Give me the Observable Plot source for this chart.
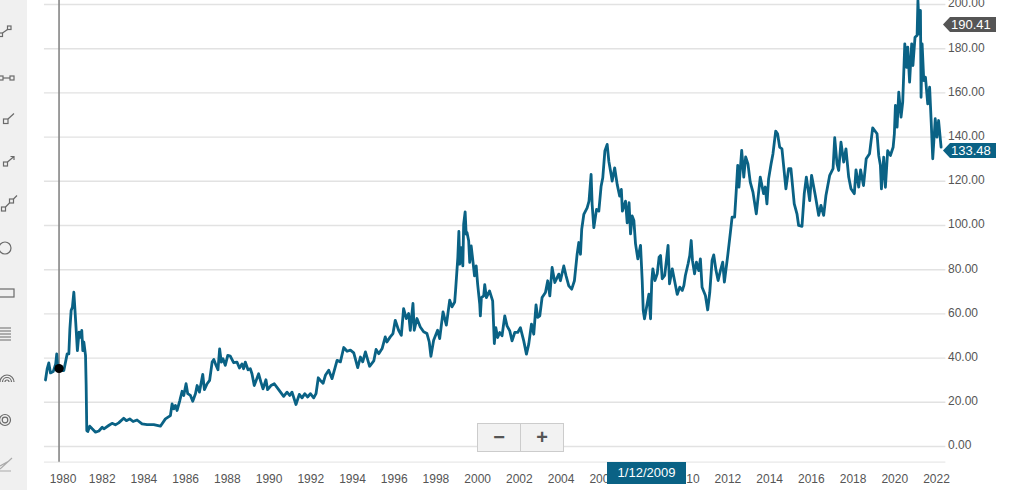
<!DOCTYPE html>
<html>
<head>
<meta charset="utf-8">
<script src="https://cdn.jsdelivr.net/npm/d3@7"></script>
<script src="https://cdn.jsdelivr.net/npm/@observablehq/plot@0.6"></script>
<style>
html,body{margin:0;padding:0;background:#fff;overflow:hidden}
#wrap{position:relative;width:1024px;height:490px;overflow:hidden;font-family:"Liberation Sans",Arial,sans-serif}
#wrap svg.plot{position:absolute;left:0;top:0}
#rail{position:absolute;left:0;top:0;width:27px;height:490px;background:#f0f0f0}
#icons{position:absolute;left:0;top:0}
.tag{position:absolute;left:943px;width:53px;height:15px;line-height:15px;color:#fff;font-size:13px;text-indent:8px;clip-path:polygon(0 50%,7px 0,100% 0,100% 100%,7px 100%)}
#zoom{position:absolute;left:477px;top:423px;width:85px;height:27px;background:#f2f2f2;border:1px solid #ccc;display:flex;color:#555;font-weight:bold;font-size:20px;line-height:26px;text-align:center}
#zoom span{flex:1}
#zoom span:first-child{border-right:1px solid #ccc}
#date{position:absolute;left:607px;top:462px;width:79px;height:22px;line-height:21px;background:#0a6285;color:#fff;font-size:13px;text-align:center}
</style>
</head>
<body>
<div id="wrap"></div>
<script>
const years = [
1979.28,1979.36,1979.44,1979.52,1979.65,1979.77,1979.82,1979.87,1980.00,1980.16,1980.32,1980.40,1980.45,1980.51,1980.57,1980.64,1980.69,1980.73,1980.81,1980.89,1980.96,1981.02,1981.07,1981.12,1981.20,1981.23,1981.26,1981.31,1981.40,1981.52,1981.68,1981.84,1982.00,1982.08,1982.31,1982.47,1982.63,1982.79,1983.03,1983.16,1983.32,1983.48,1983.67,1983.91,1984.15,1984.47,1984.79,
1985.03,1985.27,1985.35,1985.43,1985.51,1985.59,1985.72,1985.83,1985.91,1986.02,1986.10,1986.23,1986.34,1986.47,1986.55,1986.66,1986.82,1986.90,1987.03,1987.15,1987.27,1987.35,1987.46,1987.55,1987.63,1987.71,1987.79,1987.90,1988.02,1988.14,1988.30,1988.46,1988.58,1988.70,1988.78,1988.86,1988.99,1989.10,1989.18,1989.29,1989.50,1989.61,1989.71,1989.85,1989.93,1990.09,1990.25,1990.46,1990.70,1990.86,1990.99,1991.10,1991.29,1991.45,1991.58,1991.71,1991.85,1991.98,1992.14,1992.25,1992.36,1992.46,1992.59,1992.70,
1992.86,1993.02,1993.26,1993.42,1993.58,1993.74,1993.90,1994.06,1994.25,1994.38,1994.49,1994.62,1994.82,1995.02,1995.13,1995.26,1995.42,1995.57,1995.65,1995.81,1995.94,1996.05,1996.21,1996.34,1996.45,1996.58,1996.69,1996.77,1996.90,1996.96,1997.09,1997.25,1997.41,1997.57,1997.68,1997.76,1997.89,1998.08,1998.18,1998.34,1998.50,1998.66,1998.77,1998.90,1998.94,
1999.05,1999.10,1999.14,1999.21,1999.29,1999.33,1999.40,1999.45,1999.49,1999.57,1999.62,1999.69,1999.78,1999.85,1999.93,2000.00,2000.10,2000.13,2000.18,2000.29,2000.34,2000.42,2000.57,2000.72,2000.80,2000.87,2000.96,2001.06,2001.17,2001.30,2001.41,2001.54,2001.65,2001.78,2001.92,2002.05,2002.21,2002.34,2002.45,2002.58,2002.69,2002.80,2002.88,2002.98,2003.09,2003.25,2003.36,2003.46,2003.57,2003.70,2003.89,2003.97,2004.13,2004.24,2004.37,2004.51,2004.64,2004.77,2004.85,2004.93,2004.99,
2005.09,2005.25,2005.34,2005.44,2005.49,2005.57,2005.70,2005.81,2005.92,2006.00,2006.10,2006.21,2006.29,2006.40,2006.45,2006.57,2006.69,2006.81,2006.89,2006.94,2007.09,2007.17,2007.26,2007.33,2007.41,2007.49,2007.57,2007.68,2007.81,2007.89,2007.94,2008.00,2008.21,2008.29,2008.35,2008.40,2008.50,2008.61,2008.70,2008.77,2008.85,2008.97,2009.05,2009.13,2009.20,2009.33,2009.44,2009.57,2009.69,2009.81,2009.89,2009.96,2010.09,2010.17,2010.24,2010.30,2010.40,2010.49,2010.60,2010.68,2010.76,2010.92,2011.03,2011.13,2011.24,2011.32,2011.43,2011.53,2011.64,2011.75,2011.83,2011.99,2012.12,2012.20,2012.32,2012.40,2012.47,2012.53,2012.66,2012.76,2012.85,2012.96,2013.07,2013.20,2013.36,2013.55,2013.71,2013.79,2013.87,2013.95,2014.07,2014.16,2014.29,2014.38,2014.48,2014.59,2014.78,2014.91,2015.02,2015.18,2015.31,2015.39,2015.55,2015.66,2015.76,2015.92,2016.01,2016.19,2016.35,2016.46,2016.59,2016.70,2016.88,2017.04,2017.12,2017.23,2017.31,2017.42,2017.55,2017.66,2017.79,2017.90,2018.06,2018.14,2018.27,2018.36,2018.50,2018.63,2018.79,2018.94,
2019.15,2019.23,2019.31,2019.36,2019.47,2019.55,2019.66,2019.79,2019.92,2019.98,2020.03,2020.11,2020.19,2020.30,2020.38,2020.48,2020.56,2020.62,2020.71,2020.81,2020.87,2020.97,2021.07,2021.11,2021.18,2021.23,2021.26,2021.31,2021.39,2021.47,2021.58,2021.67,2021.75,2021.82,2021.94,2022.02,2022.10,2022.22
];
const prices = [
30.1,35.1,37.8,33.3,33.9,37.4,41.9,35.1,34.4,34.4,41.9,41.9,53.2,61.5,63,69.8,62.3,56.2,43.4,51.7,49.4,52.5,43.4,47.2,41.1,27.6,7.2,6.8,9.2,8,6.5,7,8.7,8,9.5,10.5,9.8,10.7,12.8,11.7,12.5,11.3,12,10.2,9.9,9.9,9.2,
12.5,14,19.3,17,18.6,16.3,20.8,25,23.1,28.4,23.9,23.1,20.5,23.9,27.6,24.6,32.6,25.7,28.4,29.9,38.2,39.4,36.7,34.7,44.2,38.2,39.7,36.7,41.2,40.9,37.9,38.2,35.5,37.4,35.2,38.2,34.7,35.2,32.9,27.6,32.9,29.1,26.1,30.2,25.7,27.6,28.4,25.7,22.7,24.6,23.1,24.6,19,23.6,22,23.9,22.4,23.9,22,23.9,31.1,29.9,28.6,32.2,
34.5,30.7,39,38.3,44.8,43.1,43.6,42.4,35.7,40.5,38.3,42.8,36.3,38.7,43.9,42,44.3,49.6,47.3,49.6,51.1,57.1,52.6,50.3,62.4,57.9,60.2,52.6,64.7,52.6,57.9,54.1,51.9,51.1,47.3,40.8,48.1,52.6,48.8,60.9,54.9,66.2,63.2,65.4,70.4,
85.5,97.3,82.5,90,81.7,100.6,106.2,96.1,96.8,93.1,83.3,90.8,83.3,77.2,81.7,73.5,64.4,59.1,67.4,68.2,73.2,67.4,70.4,65.9,46.6,53.8,49.3,51.6,50.1,59.1,54.6,52.3,47.8,51.6,51.6,53.8,47.8,41.8,46.3,55.4,50.8,64.1,58.4,59.1,67.4,69.7,75,68.2,81,74.2,78,75,81.7,77.2,72.7,71.2,75,87,92.3,87,98.3,
105,108,111,123.1,109.5,99,107.3,106.5,117.8,121.6,133.7,136.7,129.1,123.1,120.1,126.1,118.6,113.3,116.3,106.5,111,101.2,110.3,96.2,104.3,102.3,91.7,84.9,91,75.1,61.5,57.8,68.9,57.8,75.1,80.4,75.1,78.1,85.7,86.4,75.9,77.4,84.2,91,73.6,80.4,75.1,68.8,72.1,70.6,72.9,77.4,82.7,86.4,93.2,84.2,78.1,83.4,79.6,84.9,72.1,68.3,61.8,69.8,84.2,86.7,79.6,75.1,79.6,83.4,74.4,86.4,97,103.8,103.8,115.9,127.2,117.4,134,121.9,131,127.9,119.6,115.1,105.3,121.9,114.4,117.4,109.8,121.1,127.9,132.5,142.7,141.5,135.5,134.7,116.6,125.7,125.7,109.8,105.3,100,99.6,114.4,121.9,111.3,122.7,113.6,104.6,109.1,104.6,113.6,122.7,125.7,139.7,127.9,124.9,137.7,128.7,134.7,121.9,116.6,114.4,125.2,117.4,125.2,118.1,130.2,132.5,144.2,
141.5,131.7,127.2,116.6,130.9,117.3,133.9,131.7,135.4,141.5,154.3,144.5,160.3,149,155.8,182.2,171.6,180.7,164.9,182.2,172.4,185.2,186,201.8,186.7,197.3,158,182.2,165.6,167.1,155,162.6,146,130.2,148.3,140,147.5,135.5
];
const yTicks = [0,20,40,60,80,100,120,140,160,180,200];
const xTicks = [1982,1984,1986,1988,1990,1992,1994,1996,1998,2000,2002,2004,2006,2010,2012,2014,2016,2018,2020,2022];
const firstTick = [1980];
const crosshair = {year:1979.93, price:35.3};
const priceTags = [{text:"190.41", top:17, color:"#555555"},{text:"133.48", top:143, color:"#0a6285"}];
const dateLabel = "1/12/2009";

const series = years.map((y,i)=>({y, v:prices[i]}));
const ink = "#555";
const chart = Plot.plot({
  width:1024, height:490,
  marginTop:0, marginRight:0, marginBottom:0, marginLeft:0,
  style:{background:"transparent", fontFamily:'"Liberation Sans",Arial,sans-serif'},
  x:{axis:null, type:"linear", domain:[1980,2022], range:[60,936]},
  y:{axis:null, domain:[0,200], range:[446,4]},
  marks:[
    Plot.ruleY(yTicks,{x1:1979.23,x2:2022.45,stroke:"#e2e2e2",strokeWidth:1.4}),
    Plot.ruleY([-7.1],{x1:1979.23,x2:2022.45,stroke:"#e8e8e8",strokeWidth:1.2}),
    Plot.ruleX([crosshair.year],{y1:-7.1,y2:205,stroke:"#858585",strokeWidth:1.6}),
    Plot.line(series,{x:"y",y:"v",stroke:"#0a6285",strokeWidth:2.8,strokeLinejoin:"round",clip:false}),
    Plot.dot([crosshair],{x:"year",y:"price",r:4.6,fill:"#000"}),
    Plot.text(yTicks,{x:2022.55,y:d=>d,dy:-1,text:d=>d.toFixed(2),textAnchor:"start",fill:ink,fontSize:12}),
    Plot.text(xTicks,{x:d=>d,y:-14.6,text:d=>String(d),fill:ink,fontSize:12}),
    Plot.text(firstTick,{x:d=>d,y:-14.6,dx:2.5,text:d=>String(d),fill:ink,fontSize:12})
  ]
});
const wrap = document.getElementById("wrap");
wrap.appendChild(chart);

const rail = document.createElement("div"); rail.id="rail"; wrap.insertBefore(rail, chart);

// decorative drawing-tool rail
const icons = `<svg id="icons" width="27" height="490" fill="none" stroke="#6a6a6a" stroke-width="1.2">
<rect x="-1" y="33" width="3.5" height="3.5"/><rect x="7.5" y="26" width="3.5" height="3.5"/><path d="M2.5 33L7.5 29.5"/>
<rect x="-1" y="76" width="4" height="4"/><rect x="10" y="76" width="4" height="4"/><path d="M3 78H10"/>
<rect x="3.5" y="119" width="4.5" height="4.5"/><path d="M8 119L14 113.5"/>
<rect x="3.5" y="162" width="4" height="4"/><path d="M7.5 162L14 156.5M10.5 156.5H14V160"/>
<rect x="1.5" y="207" width="4" height="4"/><rect x="9.5" y="199" width="4" height="4"/><path d="M5.5 207L9.5 203M13.5 199L17 195.5"/>
<circle cx="5" cy="248" r="6"/>
<rect x="-2" y="289" width="16" height="8"/>
<path d="M0 328H11M0 331H11M0 334H11M0 337H11M0 340H11" />
<path d="M0 382a7 7 0 0 1 14 0M2.5 382a4.5 4.5 0 0 1 9 0M5 382a2 2 0 0 1 4 0"/>
<circle cx="5" cy="420" r="5.5"/><circle cx="5" cy="420" r="2.8"/>
<path d="M0 469L12 458M0 466L9 461M0 471H11" stroke="#aaa"/>
</svg>`;
wrap.insertAdjacentHTML("beforeend", icons);

for (const t of priceTags) {
  const d = document.createElement("div");
  d.className="tag"; d.textContent=t.text; d.style.top=t.top+"px"; d.style.background=t.color;
  wrap.appendChild(d);
}
wrap.insertAdjacentHTML("beforeend", `<div id="zoom"><span>\u2212</span><span>+</span></div>`);
const dt = document.createElement("div"); dt.id="date"; dt.textContent=dateLabel; wrap.appendChild(dt);
</script>
</body>
</html>
